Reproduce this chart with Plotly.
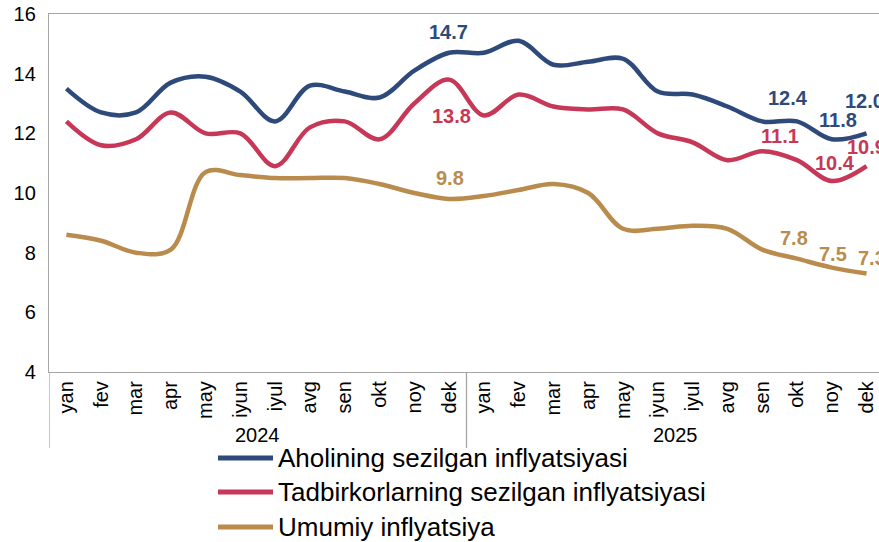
import plotly.graph_objects as go

months = ["yan", "fev", "mar", "apr", "may", "iyun", "iyul", "avg", "sen", "okt", "noy", "dek"]
years = ["2024", "2025"]
tick_labels = months * 2

series_names = ["Aholining sezilgan inflyatsiyasi",
                "Tadbirkorlarning sezilgan inflyatsiyasi",
                "Umumiy inflyatsiya"]

aholi = [13.5, 12.7, 12.7, 13.7, 13.9, 13.4, 12.4, 13.6, 13.4, 13.2, 14.1, 14.7,
         14.7, 15.1, 14.3, 14.4, 14.5, 13.4, 13.3, 12.9, 12.4, 12.4, 11.8, 12.0]
tadbirkor = [12.4, 11.6, 11.8, 12.7, 12.0, 12.0, 10.9, 12.2, 12.4, 11.8, 13.0, 13.8,
             12.6, 13.3, 12.9, 12.8, 12.8, 12.0, 11.7, 11.1, 11.4, 11.1, 10.4, 10.9]
umumiy = [8.6, 8.4, 8.0, 8.1, 10.7, 10.6, 10.5, 10.5, 10.5, 10.3, 10.0, 9.8,
          9.9, 10.1, 10.3, 10.0, 8.8, 8.8, 8.9, 8.8, 8.1, 7.8, 7.5, 7.3]

colors = ["#2e4a7a", "#c73858", "#b98c4e"]
y_ticks = [4, 6, 8, 10, 12, 14, 16]

# data labels shown: (series index, point index, xshift, yshift)
label_points = [
    (0, 11, -1, 21), (1, 11, 2, -36), (2, 11, 1, 21),
    (0, 21, -9, 23), (1, 21, -17, 24), (2, 21, -3, 21),
    (0, 22, 6, 19), (1, 22, 3, 18), (2, 22, 1, 14),
    (0, 23, -2, 32), (1, 23, 0, 19), (2, 23, 5, 16),
]

all_series = [aholi, tadbirkor, umumiy]
x_idx = list(range(len(tick_labels)))

W, H = 879, 542
L, T, R, B = 49, 14, 0, 170
pw = W - L - R
ph = H - T - B

fig = go.Figure()
for name, vals, col in zip(series_names, all_series, colors):
    fig.add_trace(go.Scatter(
        x=x_idx, y=vals, name=name, mode="lines",
        line=dict(color=col, width=4.5, shape="spline", smoothing=1.0),
        showlegend=False, cliponaxis=False))

annotations = []
for si, pi, dx, dy in label_points:
    annotations.append(dict(
        x=pi, y=all_series[si][pi], xref="x", yref="y",
        text=f"{all_series[si][pi]:.1f}", showarrow=False,
        xshift=dx, yshift=dy,
        font=dict(family="Liberation Sans", size=20, color=colors[si], weight="bold")))

# year group labels
for k, yr in enumerate(years):
    annotations.append(dict(
        x=5.5 + 12 * k, y=(372 - 435) / ph, xref="x", yref="paper",
        text=yr, showarrow=False, yanchor="middle",
        font=dict(family="Liberation Sans", size=20, color="#000000")))

shapes = []
for xv in [-0.5, 11.5]:
    shapes.append(dict(type="line", xref="x", yref="paper",
                       x0=xv, x1=xv, y0=0, y1=(372 - 448) / ph,
                       line=dict(color="#a6a6a6", width=1.3)))

# manual legend
leg_rows = [458, 492, 527]
for name, col, py in zip(series_names, colors, leg_rows):
    yp = (372 - py) / ph
    shapes.append(dict(type="line", xref="paper", yref="paper",
                       x0=(218 - L) / pw, x1=(273 - L) / pw, y0=yp, y1=yp,
                       line=dict(color=col, width=5)))
    annotations.append(dict(
        x=(276 - L) / pw, y=yp, xref="paper", yref="paper",
        text=name, showarrow=False, xanchor="left", yanchor="middle",
        font=dict(family="Liberation Sans", size=26, color="#000000")))

px_per_cat = 34.79
x_max = -0.5 + pw / px_per_cat

fig.update_layout(
    width=W, height=H,
    margin=dict(l=L, r=R, t=T, b=B),
    paper_bgcolor="white", plot_bgcolor="white",
    font=dict(family="Liberation Sans", color="#000000"),
    xaxis=dict(range=[-0.5, x_max], tickmode="array", tickvals=x_idx,
               ticktext=tick_labels, tickangle=-90, showgrid=False,
               zeroline=False, showline=True, mirror=True,
               linecolor="#a6a6a6", linewidth=1.3, ticks="",
               tickfont=dict(size=20, family="Liberation Sans", color="#000000")),
    yaxis=dict(range=[4, 16], tickmode="array", tickvals=y_ticks,
               showgrid=False, zeroline=False, showline=True,
               linecolor="#a6a6a6", linewidth=1.3, ticks="",
               ticklabelstandoff=8,
               tickfont=dict(size=20, family="Liberation Sans", color="#000000")),
    annotations=annotations, shapes=shapes,
)

fig.write_html("out.html", config={"displayModeBar": False},
               post_script="document.body.style.margin='0';")
